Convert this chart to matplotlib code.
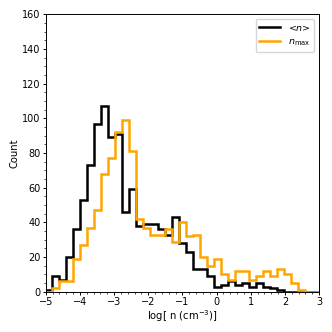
import numpy as np
import matplotlib
matplotlib.use("Agg")
import matplotlib.pyplot as plt
from matplotlib.ticker import AutoMinorLocator, MultipleLocator

# Histogram bin edges (log n)
bin_start = -5.01
bin_width = 0.205
n_bins = 40
edges = bin_start + bin_width * np.arange(n_bins + 1)

# Counts for <n>
counts_mean = [1, 9, 7, 20, 36, 53, 73, 97, 107, 89,
               91, 46, 59, 38, 39, 39, 36, 33, 43, 28,
               23, 13, 13, 9, 3, 4, 6, 4, 5, 3,
               5, 3, 2, 1, 0, 0, 0, 0, 0, 0]
# Counts for n_max
counts_max = [0, 2, 6, 6, 19, 27, 37, 47, 68, 77,
              92, 99, 81, 42, 37, 33, 33, 36, 29, 40,
              32, 33, 20, 15, 19, 10, 7, 12, 12, 7,
              9, 12, 9, 13, 10, 5, 1, 0, 0, 0]

labels = [r'<$n$>', r'$n_{\rm max}$']
colors = ['black', 'orange']

fig = plt.figure(figsize=(3.32, 3.32), dpi=100)
ax = fig.add_axes([0.138, 0.121, 0.823, 0.836])

for c, lab, col in zip([counts_mean, counts_max], labels, colors):
    ax.stairs(c, edges, baseline=0, color=col, lw=1.8, label=lab)

ax.set_xlim(-5, 3)
ax.set_ylim(0, 160)
ax.xaxis.set_major_locator(MultipleLocator(1))
ax.yaxis.set_major_locator(MultipleLocator(20))
ax.xaxis.set_minor_locator(AutoMinorLocator(5))
ax.yaxis.set_minor_locator(AutoMinorLocator(4))
ax.tick_params(which='major', labelsize=7, length=2.3, width=0.7, pad=1.6)
ax.tick_params(which='minor', length=1.3, width=0.5)
for s in ax.spines.values():
    s.set_linewidth(0.7)

ax.set_xlabel(r'log[ n (cm$^{-3}$)]', fontsize=7.2, labelpad=0.8)
ax.set_ylabel('Count', fontsize=7.2, labelpad=2)
ax.legend(loc='upper right', fontsize=6.8, handlelength=2.2, frameon=True)

fig.savefig('out.png', dpi=100)
